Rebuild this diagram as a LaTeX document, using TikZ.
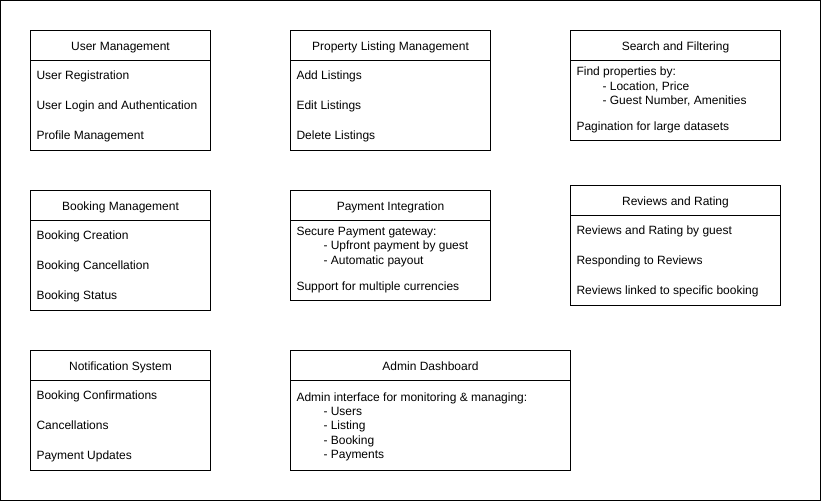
\documentclass[tikz,border=0pt]{standalone}
\usepackage{fontspec}
\setmainfont{Liberation Sans}
\usetikzlibrary{positioning}

\begin{document}
\begin{tikzpicture}[x=1pt, y=-1pt, line width=1pt,
		head/.style={draw, anchor=north west, minimum height=30pt, inner sep=0pt,
			text height=11.8pt, text depth=2.5pt, font=\fontsize{12}{14.4}\selectfont},
		body/.style={draw, anchor=north west, inner sep=0pt},
		item/.style={anchor=west, inner sep=0pt, yshift=-1.6pt,
			text height=8.7pt, text depth=2.5pt, font=\fontsize{12}{14.4}\selectfont}]
		
		\useasboundingbox (0,0) rectangle (821,501);
		% --- outer frame ---
		\draw (0.5,0.5) rectangle (820.5,500.5);
		
		% --- User Management ---
		\begin{scope}[shift={(30,30)}]
			\node[head, minimum width=180pt] (user) at (0,0) {User Management};
			\node[body, minimum width=180pt, minimum height=90pt] (userbody) at (0,30) {};
			\node[item] (user1) at (6,45) {User Registration};
			\node[item] (user2) at (6,75) {User Login and Authentication};
			\node[item] (user3) at (6,105) {Profile Management};
		\end{scope}
		
		% --- Property Listing Management ---
		\begin{scope}[shift={(290,30)}]
			\node[head, minimum width=200pt] (prop) at (0,0) {Property Listing Management};
			\node[body, minimum width=200pt, minimum height=90pt] (propbody) at (0,30) {};
			\node[item] (prop1) at (6,45) {Add Listings};
			\node[item] (prop2) at (6,75) {Edit Listings};
			\node[item] (prop3) at (6,105) {Delete Listings};
		\end{scope}
		
		% --- Search and Filtering ---
		\begin{scope}[shift={(570,30)}]
			\node[head, minimum width=210pt] (search) at (0,0) {Search and Filtering};
			\node[body, minimum width=210pt, minimum height=80pt] (searchbody) at (0,30) {};
			\node[item] (search1) at (6,41) {Find properties by:};
			\node[item] (search2) at (32,55.5) {- Location, Price};
			\node[item] (search3) at (32,70) {- Guest Number, Amenities};
			\node[item] (search4) at (6,96) {Pagination for large datasets};
		\end{scope}
		
		% --- Booking Management ---
		\begin{scope}[shift={(30,190)}]
			\node[head, minimum width=180pt] (book) at (0,0) {Booking Management};
			\node[body, minimum width=180pt, minimum height=90pt] (bookbody) at (0,30) {};
			\node[item] (book1) at (6,45) {Booking Creation};
			\node[item] (book2) at (6,75) {Booking Cancellation};
			\node[item] (book3) at (6,105) {Booking Status};
		\end{scope}
		
		% --- Payment Integration ---
		\begin{scope}[shift={(290,190)}]
			\node[head, minimum width=200pt] (pay) at (0,0) {Payment Integration};
			\node[body, minimum width=200pt, minimum height=80pt] (paybody) at (0,30) {};
			\node[item] (pay1) at (6,40.5) {Secure Payment gateway:};
			\node[item] (pay2) at (33,55) {- Upfront payment by guest};
			\node[item] (pay3) at (33,69.5) {- Automatic payout};
			\node[item] (pay4) at (6,95.5) {Support for multiple currencies};
		\end{scope}
		
		% --- Reviews and Rating ---
		\begin{scope}[shift={(570,185)}]
			\node[head, minimum width=210pt] (rev) at (0,0) {Reviews and Rating};
			\node[body, minimum width=210pt, minimum height=90pt] (revbody) at (0,30) {};
			\node[item] (rev1) at (6,45) {Reviews and Rating by guest};
			\node[item] (rev2) at (6,75) {Responding to Reviews};
			\node[item] (rev3) at (6,105) {Reviews linked to specific booking};
		\end{scope}
		
		% --- Notification System ---
		\begin{scope}[shift={(30,350)}]
			\node[head, minimum width=180pt] (notif) at (0,0) {Notification System};
			\node[body, minimum width=180pt, minimum height=90pt] (notifbody) at (0,30) {};
			\node[item] (notif1) at (6,45) {Booking Confirmations};
			\node[item] (notif2) at (6,75) {Cancellations};
			\node[item] (notif3) at (6,105) {Payment Updates};
		\end{scope}
		
		% --- Admin Dashboard ---
		\begin{scope}[shift={(290,350)}]
			\node[head, minimum width=280pt] (admin) at (0,0) {Admin Dashboard};
			\node[body, minimum width=280pt, minimum height=90pt] (adminbody) at (0,30) {};
			\node[item] (admin1) at (6,47) {Admin interface for monitoring \& managing:};
			\node[item] (admin2) at (33,60.5) {- Users};
			\node[item] (admin3) at (33,75) {- Listing};
			\node[item] (admin4) at (33,89.5) {- Booking};
			\node[item] (admin5) at (33,104) {- Payments};
		\end{scope}
		
	\end{tikzpicture}
\end{document}
